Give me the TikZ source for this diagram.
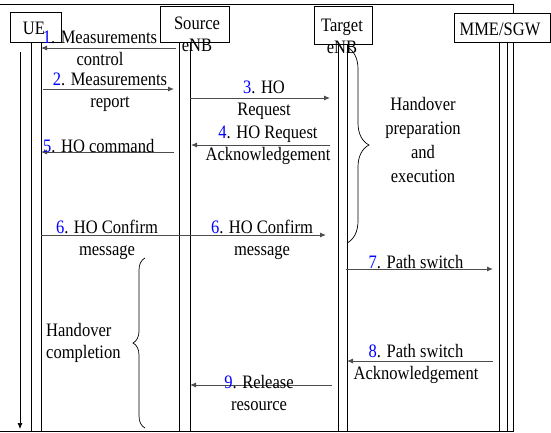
\documentclass[tikz,border=0pt]{standalone}
\usepackage{fontspec}
\setmainfont[FakeStretch=0.87]{Liberation Serif}
\usetikzlibrary{arrows.meta,decorations.pathreplacing}
\begin{document}
\begin{tikzpicture}[x=1pt,y=-1pt,
  every node/.style={font=\fontsize{19}{22}\selectfont, inner sep=0pt},
  ent/.style={draw=black, fill=white, line width=0.8pt},
  life/.style={draw=black, line width=0.7pt},
  msg/.style={draw=black!70, line width=0.9pt, -{Latex[length=6pt,width=5pt]}},
  lbl/.style={align=center},
  br/.style={decorate, decoration={brace, amplitude=#1}, line width=0.7pt}
]
\useasboundingbox (0,0) rectangle (551,432);
% frame
\draw[line width=0.8pt] (0,4) -- (513,4) -- (513,431) -- (0,431);
% lifelines
\draw[life] (31,42) -- (31,431) (41,42) -- (41,431);
\draw[life,-{Latex[length=6pt,width=5pt]}] (20,52) -- (20,429);
\draw[life] (179,42) -- (179,431) (190,42) -- (190,431);
\draw[life] (338,44) -- (338,431) (347,44) -- (347,431);
\draw[life] (499,42) -- (499,431) (507,42) -- (507,431);
% entity boxes
\node[ent, minimum width=51pt, minimum height=30pt] (ue) at (35.5,27) {};
\node at (34,28) {UE};
\node[ent, minimum width=69pt, minimum height=36pt] (src) at (194.5,24) {};
\node[lbl] (srct) at (197,34) {Source\\eNB};
\node[ent, minimum width=58pt, minimum height=38pt] (tgt) at (343,25) {};
\node[lbl] (tgtt) at (342,36) {Target\\eNB};
\node[ent, minimum width=96pt, minimum height=29pt] (mme) at (502,27.5) {};
\node at (500,29) {MME/SGW};
% message end points
\coordinate (m1s) at (176,48);  \coordinate (m1e) at (41,48);
\coordinate (m2s) at (43,89);   \coordinate (m2e) at (174,89);
\coordinate (m3s) at (190,98);  \coordinate (m3e) at (330,98);
\coordinate (m4s) at (330,145); \coordinate (m4e) at (191,145);
\coordinate (m5s) at (174,152); \coordinate (m5e) at (41,152);
\coordinate (m6s) at (41,235);  \coordinate (m6e) at (326,235);
\coordinate (m7s) at (346,269); \coordinate (m7e) at (493,269);
\coordinate (m8s) at (493,361); \coordinate (m8e) at (347,361);
\coordinate (m9s) at (332,385); \coordinate (m9e) at (190,385);
\draw[msg] (m1s) -- (m1e);
\draw[msg] (m2s) -- (m2e);
\draw[msg] (m3s) -- (m3e);
\draw[msg] (m4s) -- (m4e);
\draw[msg] (m5s) -- (m5e);
\draw[msg] (m6s) -- (m6e);
\draw[msg] (m7s) -- (m7e);
\draw[msg] (m8s) -- (m8e);
\draw[msg] (m9s) -- (m9e);
% labels
\node[lbl] (l1) at (100,48) {\textcolor{blue}{1}. Measurements\\control};
\node[lbl] (l2) at (110,92) {\textcolor{blue}{2}. Measurements\\report};
\node[lbl] (l3) at (264,100) {\textcolor{blue}{3}. HO\\Request};
\node[lbl] (l4) at (268,145) {\textcolor{blue}{4}. HO Request\\Acknowledgement};
\node[anchor=west] (l5) at (43,146) {\textcolor{blue}{5}. HO command};
\node[lbl] (l6a) at (107,240) {\textcolor{blue}{6}. HO Confirm\\message};
\node[lbl] (l6b) at (262,240) {\textcolor{blue}{6}. HO Confirm\\message};
\node (l7) at (416,262) {\textcolor{blue}{7}. Path switch};
\node[lbl] (l8) at (416,364) {\textcolor{blue}{8}. Path switch\\Acknowledgement};
\node[lbl] (l9) at (259,393) {\textcolor{blue}{9}. Release\\resource};
% braces
\coordinate (b1t) at (347,47); \coordinate (b1b) at (347,243);
\draw[br=22pt] (b1t) -- (b1b);
\node[lbl, font=\fontsize{19}{24}\selectfont] (hp) at (423,140) {Handover\\preparation\\and\\execution};
\coordinate (b2t) at (145,258); \coordinate (b2b) at (145,428);
\draw[br=12pt] (b2b) -- (b2t);
\node[align=left, anchor=west, font=\fontsize{19}{22}\selectfont] (hc) at (46,343) {Handover\\completion};
\end{tikzpicture}
\end{document}
